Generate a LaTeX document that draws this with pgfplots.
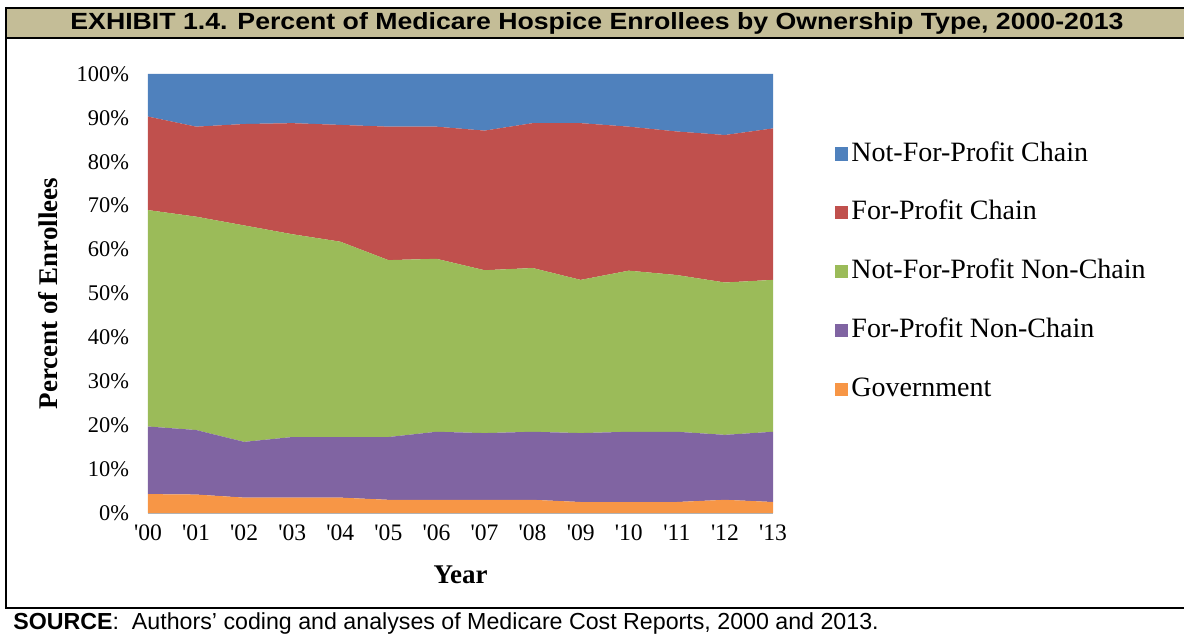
\documentclass[border=0pt]{standalone}
\usepackage{pgfplots}
\pgfplotsset{compat=1.18}
\usepackage{fontspec}
\setmainfont{Liberation Serif}
\newfontfamily\arial{Liberation Sans}
\definecolor{cBlue}{HTML}{4F81BD}
\definecolor{cRed}{HTML}{C0504D}
\definecolor{cGreen}{HTML}{9BBB59}
\definecolor{cPurple}{HTML}{8064A2}
\definecolor{cOrange}{HTML}{F79646}
\definecolor{cTan}{HTML}{C4BD97}
\begin{document}
\begin{tikzpicture}
\useasboundingbox (0,0) rectangle (592pt,317.5pt);
\fill[cTan] (3pt,298.5pt) rectangle (592pt,313.5pt);
\draw[line width=1pt] (2.5pt,313.5pt) -- (592pt,313.5pt);
\draw[line width=1pt] (2.5pt,298.5pt) -- (592pt,298.5pt);
\draw[line width=1pt] (3pt,314pt) -- (3pt,13.5pt);
\draw[line width=1pt] (2.5pt,13.5pt) -- (592pt,13.5pt);
\node[font=\arial\bfseries\fontsize{11.7}{13}\selectfont, inner sep=0pt] at (298.5pt,306pt)
  {\scalebox{1.14}[1]{EXHIBIT 1.4. Percent of Medicare Hospice Enrollees by Ownership Type, 2000-2013}};
\node[anchor=base west, font=\arial\fontsize{11.6}{13}\selectfont, inner sep=0pt] at (6.5pt,2.5pt)
  {\textbf{SOURCE}:\ \ Authors’ coding and analyses of Medicare Cost Reports, 2000 and 2013.};
\begin{axis}[
  at={(74pt,61pt)}, anchor=south west,
  scale only axis, width=312.5pt, height=219.5pt,
  xmin=0, xmax=13, ymin=0, ymax=100,
  stack plots=y,
  axis x line*=bottom, axis y line*=left,
  x axis line style={-, draw=gray!60},
  y axis line style={draw=none},
  major tick length=0pt,
  xtick={0,...,13},
  xticklabels={\textquotesingle00,\textquotesingle01,\textquotesingle02,\textquotesingle03,\textquotesingle04,\textquotesingle05,\textquotesingle06,\textquotesingle07,\textquotesingle08,\textquotesingle09,\textquotesingle10,\textquotesingle11,\textquotesingle12,\textquotesingle13},
  ytick={0,10,...,100},
  yticklabels={0\%,10\%,20\%,30\%,40\%,50\%,60\%,70\%,80\%,90\%,100\%},
  yticklabel style={font=\fontsize{11.2}{12}\selectfont, xshift=-6pt},
  xticklabel style={font=\fontsize{11.8}{12}\selectfont, yshift=-2.5pt},
  xlabel={Year}, ylabel={Percent of Enrollees},
  label style={font=\bfseries\fontsize{13.5}{15}\selectfont},
  xlabel style={at={(axis description cs:0.5,-0.1412)}, anchor=center},
  ylabel style={at={(axis description cs:-0.16,0.5)}, anchor=center},
  reverse legend,
  legend cell align=left,
  legend image code/.code={\fill[#1] (0pt,-3.3pt) rectangle (6.6pt,3.3pt);},
  legend style={at={(axis description cs:1.099,0.855)}, anchor=north west,
    draw=none, fill=none, inner sep=0pt, row sep=13.4pt,
    font=\fontsize{14}{16}\selectfont,
    nodes={inner sep=1.5pt, text height=10pt, text depth=3pt}},
]
\addplot[fill=cOrange, draw=none] coordinates {(0,4.3) (1,4.2) (2,3.5) (3,3.5) (4,3.5) (5,3.0) (6,3.0) (7,3.0) (8,3.0) (9,2.5) (10,2.5) (11,2.5) (12,3.0) (13,2.5)} \closedcycle;
\addlegendentry{Government}
\addplot[fill=cPurple, draw=none] coordinates {(0,15.4) (1,14.7) (2,12.7) (3,13.8) (4,13.8) (5,14.3) (6,15.5) (7,15.2) (8,15.5) (9,15.7) (10,16.0) (11,16.0) (12,14.8) (13,16.0)} \closedcycle;
\addlegendentry{For-Profit Non-Chain}
\addplot[fill=cGreen, draw=none] coordinates {(0,49.3) (1,48.6) (2,49.3) (3,46.2) (4,44.5) (5,40.3) (6,39.4) (7,37.1) (8,37.3) (9,34.9) (10,36.7) (11,35.7) (12,34.7) (13,34.6)} \closedcycle;
\addlegendentry{Not-For-Profit Non-Chain}
\addplot[fill=cRed, draw=none] coordinates {(0,21.3) (1,20.5) (2,23.1) (3,25.3) (4,26.6) (5,30.4) (6,30.1) (7,31.8) (8,33.0) (9,35.7) (10,32.8) (11,32.7) (12,33.6) (13,34.5)} \closedcycle;
\addlegendentry{For-Profit Chain}
\addplot[fill=cBlue, draw=none] coordinates {(0,9.7) (1,12.0) (2,11.4) (3,11.2) (4,11.6) (5,12.0) (6,12.0) (7,12.9) (8,11.2) (9,11.2) (10,12.0) (11,13.1) (12,13.9) (13,12.4)} \closedcycle;
\addlegendentry{Not-For-Profit Chain}
\end{axis}
\end{tikzpicture}
\end{document}
